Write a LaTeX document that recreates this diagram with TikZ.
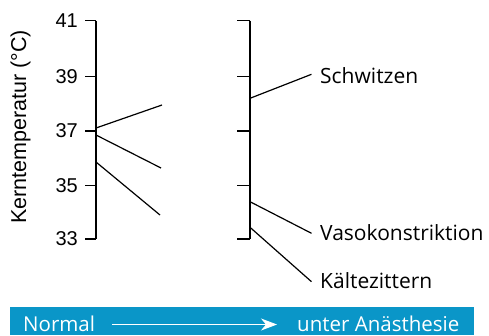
\documentclass[tikz,border=0pt]{standalone}
\usepackage{fontspec}
\usetikzlibrary{arrows.meta}
\setmainfont{Liberation Sans}
\newfontfamily\labelfont{Open Sans}
\definecolor{barblue}{HTML}{0A96C8}
\begin{document}
\begin{tikzpicture}[x=1pt,y=-1pt,
  axisline/.style={line width=1.6pt,black},
  tickline/.style={line width=1.2pt,black},
  conn/.style={line width=1.2pt,black},
  num/.style={anchor=east,inner sep=0pt,font=\fontsize{20}{22}\selectfont},
  lab/.style={anchor=west,inner sep=0pt,font=\labelfont\fontsize{21}{24}\selectfont},
  barlab/.style={inner sep=0pt,text=white,text depth=0pt,font=\labelfont\fontsize{20.5}{24}\selectfont}]
\useasboundingbox (0,0) rectangle (489,335);
% left axis
\coordinate (L41) at (96,20.5);
\coordinate (L33) at (96,239);
\draw[axisline] (L41) -- (L33);
\foreach \v/\y in {41/20.5,39/76.5,37/131,35/185.5,33/239}{
  \coordinate (lt\v) at (85,\y);
  \coordinate (la\v) at (96,\y);
  \draw[tickline] (lt\v) -- (la\v);
  \node[num] (n\v) at (78,\y) {\v};
}
\node[rotate=90,inner sep=0pt,font=\fontsize{21.5}{24}\selectfont] (ylab) at (20.5,127) {Kerntemperatur (°C)};
% left connectors
\coordinate (s1) at (96,128);
\coordinate (e1) at (162,105);
\coordinate (s2) at (96,135);
\coordinate (e2) at (161,168);
\coordinate (s3) at (96,162);
\coordinate (e3) at (160,215);
\draw[conn] (s1) -- (e1);
\draw[conn] (s2) -- (e2);
\draw[conn] (s3) -- (e3);
% right axis
\coordinate (R41) at (250,20.5);
\coordinate (R33) at (250,239);
\draw[axisline] (R41) -- (R33);
\foreach \v/\y in {41/20.5,39/76.5,37/131,35/185.5,33/239}{
  \coordinate (rt\v) at (237,\y);
  \coordinate (ra\v) at (250,\y);
  \draw[tickline] (rt\v) -- (ra\v);
}
\node[lab] (schw) at (320,76) {Schwitzen};
\node[lab] (vaso) at (320,232.5) {Vasokonstriktion};
\node[lab] (kaelte) at (320,280.5) {Kältezittern};
\coordinate (rs1) at (250,98.3);
\coordinate (rs2) at (250,201.7);
\coordinate (rs3) at (250,227.3);
\coordinate (re1) at (311.5,74.3);
\coordinate (re2) at (311.5,233.3);
\coordinate (re3) at (311.5,281.7);
\draw[conn] (rs1) -- (re1);
\draw[conn] (rs2) -- (re2);
\draw[conn] (rs3) -- (re3);
% bottom bar
\fill[barblue] (10,306.7) rectangle (474,335);
\node[barlab,anchor=base west] (normal) at (23,331.5) {Normal};
\node[barlab,anchor=base west] (anaes) at (297,331.5) {unter Anästhesie};
\coordinate (arrs) at (112,324.5);
\coordinate (arre) at (277,324.5);
\draw[white,line width=0.9pt,-{Stealth[length=16pt,width=12pt,inset=5pt]}] (arrs) -- (arre);
\end{tikzpicture}
\end{document}
